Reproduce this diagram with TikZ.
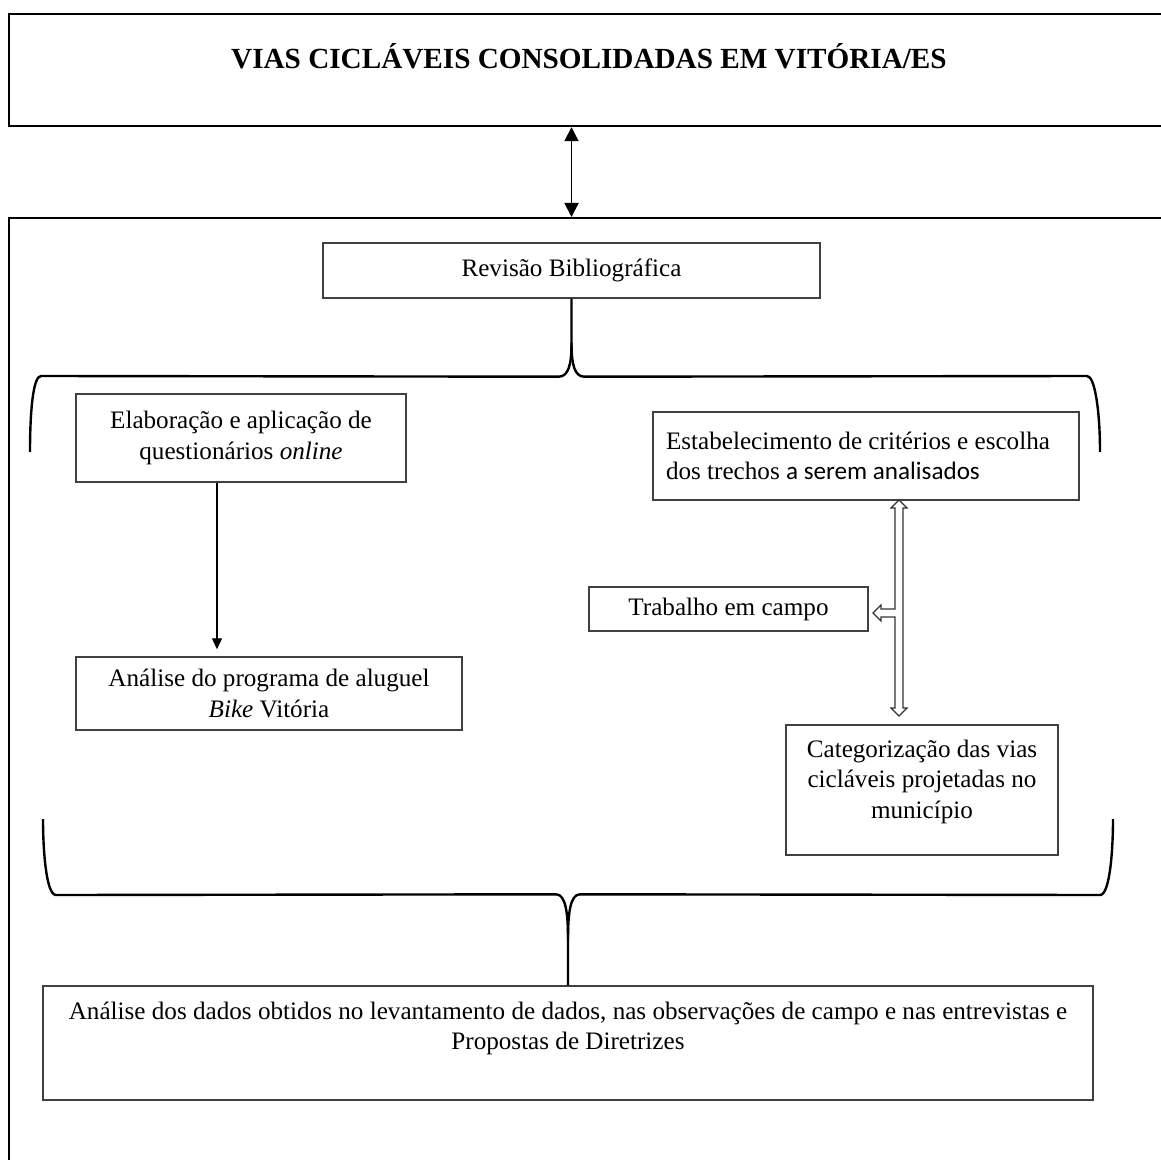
\documentclass[tikz,border=0pt]{standalone}
\usepackage{fontspec}
\setmainfont{Liberation Serif}
\newfontfamily\calibrifont{Carlito}
\usetikzlibrary{arrows.meta}

\begin{document}
\begin{tikzpicture}[
  x=0.5pt, y=-0.5pt,
  panel/.style={draw=black, line width=1.1pt, inner sep=0pt, anchor=north west,
    minimum width=583.5pt},
  block/.style={draw=black!75, line width=0.7pt, align=center, inner sep=2pt,
    font=\fontsize{12.57}{15.1}\selectfont},
  curly/.style={line width=1.2pt, line join=round},
  arrow/.style={-{Triangle[length=5.5pt, width=5pt]}, line width=0.6pt},
  dbl/.style={{Triangle[length=7pt, width=7pt]}-{Triangle[length=7pt, width=7pt]},
    line width=0.9pt},
  hollow/.style={draw=black!80, line width=0.6pt, line join=miter}
]
  \useasboundingbox (0,0) rectangle (1161,1160);
  \clip (0,0) rectangle (1161,1160);

  % Frames
  \node[panel, minimum height=56pt] (head) at (8,13) {};
  \node[panel, minimum height=481.5pt] (body) at (8,217) {};
  \node[anchor=base, font=\fontsize{14.6}{17}\selectfont\bfseries] (title) at (589,68.5)
    {VIAS CICLÁVEIS CONSOLIDADAS EM VITÓRIA/ES};

  % Blocks
  \node[block, minimum width=248.5pt, minimum height=27.5pt] (rev) at (571.5,270.5)
    {Revisão Bibliográfica};
  \node[block, minimum width=165pt, minimum height=44pt] (elab) at (241,438)
    {Elaboração e aplicação de\\questionários \textit{online}};
  \node[block, minimum width=193pt, minimum height=36.5pt] (prog) at (269,693.5)
    {Análise do programa de aluguel\\\textit{Bike} Vitória};
  \node[block, align=flush left, text width=200pt, inner xsep=6.5pt, minimum height=44pt]
    (est) at (866,456)
    {Estabelecimento de critérios e escolha\\dos trechos {\calibrifont a serem analisados}};
  \node[block, minimum width=139.5pt, minimum height=22pt] (trab) at (728.5,609)
    {Trabalho em campo};
  \node[block, inner sep=0pt, minimum width=136pt, minimum height=65pt] (cat) at (922,790)
    {\parbox[c][65pt][t]{130pt}{\centering\vspace*{7.6pt}Categorização das vias\\
      cicláveis projetadas no\\município}};
  \node[block, inner sep=0pt, minimum width=525pt, minimum height=57pt] (final) at (568,1043)
    {\parbox[c][57pt][t]{520pt}{\centering\vspace*{7.8pt}Análise dos dados obtidos no
      levantamento de dados, nas observações de campo e nas entrevistas e\\
      Propostas de Diretrizes}};

  % Arrows
  \draw[dbl] (head.south -| rev) -- (body.north -| rev);
  \coordinate (ea) at ([xshift=-12pt]elab.south);
  \draw[arrow, shorten >=3.5pt] (ea) -- (ea |- prog.north);

  % Hollow arrow between the field steps
  \coordinate (hub) at (899,613);
  \draw[hollow, shift={(hub)}] (0,-113) -- (8,-105) -- (4,-105) -- (4,95) -- (8,95)
    -- (0,103) -- (-8,95) -- (-4,95) -- (-4,4) -- (-18,4) -- (-18,8) -- (-26,0)
    -- (-18,-8) -- (-18,-4) -- (-4,-4) -- (-4,-105) -- (-8,-105) -- cycle;

  % Braces
  \draw[curly] (rev.south) -- ++(0,44) coordinate (tipA)
    .. controls +(0,22) and +(10,0) .. ++(-13,34)
    -- (41,376) .. controls +(-8,0) and +(0,-40) .. (30,452);
  \draw[curly] (tipA) .. controls +(0,22) and +(-10,0) .. ++(13,34)
    -- (1087,376) .. controls +(8,0) and +(0,-40) .. (1100,452);
  \draw[curly] (final.north) -- ++(0,-46) coordinate (tipB)
    .. controls +(0,-25) and +(10,0) .. ++(-12,-45)
    -- (56,895) .. controls +(-10,0) and +(0,30) .. (43,819);
  \draw[curly] (tipB) .. controls +(0,-25) and +(-10,0) .. ++(12,-45)
    -- (1100,895) .. controls +(10,0) and +(0,30) .. (1113,819);
\end{tikzpicture}
\end{document}
